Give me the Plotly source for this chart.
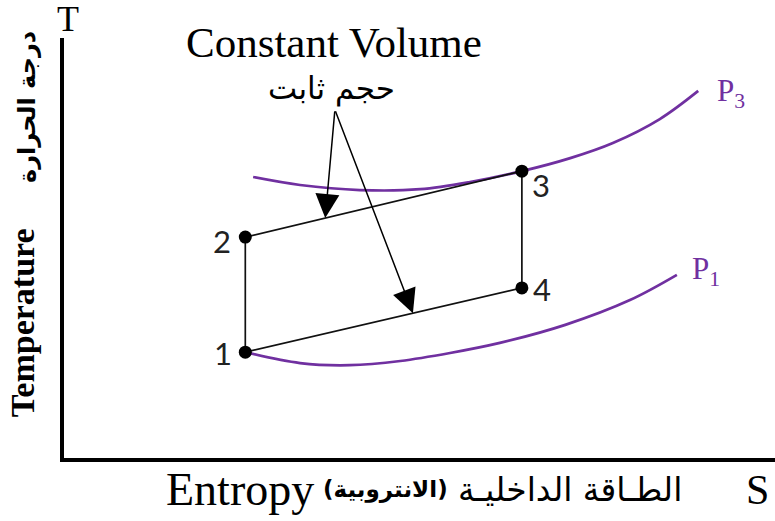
import plotly.graph_objects as go

# ---- data (arbitrary S / T units) ----
cycle_labels = ["1", "2", "3", "4"]
cycle_S = [2.55, 2.55, 6.44, 6.44]
cycle_T = [2.52, 5.26, 6.83, 4.05]

p3_S = [2.66, 3.32, 4.16, 5.01, 5.71, 6.44, 7.12, 7.72, 8.38, 8.92]
p3_T = [6.69, 6.50, 6.38, 6.40, 6.57, 6.83, 7.14, 7.50, 8.07, 8.74]

p1_S = [2.55, 3.32, 4.02, 4.73, 5.43, 6.13, 7.05, 7.96, 8.62]
p1_T = [2.52, 2.26, 2.21, 2.31, 2.50, 2.74, 3.17, 3.76, 4.36]

arrow_tail = (3.81, 8.29)           # where the "constant volume" arrows start
arrow_fracs = [0.289, 0.606]        # fraction along segments 2->3 and 1->4

PURPLE = "#7030A0"
SERIF = "Liberation Serif, Times New Roman, serif"
ARAB = "DejaVu Sans, sans-serif"

fig = go.Figure()

# pressure curves
fig.add_trace(go.Scatter(x=p3_S, y=p3_T, mode="lines", line=dict(color=PURPLE, width=2.7, shape="spline"),
                         hoverinfo="skip"))
fig.add_trace(go.Scatter(x=p1_S, y=p1_T, mode="lines", line=dict(color=PURPLE, width=2.7, shape="spline"),
                         hoverinfo="skip"))

# cycle 1-2-3-4-1
order = [0, 1, 2, 3, 0]
fig.add_trace(go.Scatter(x=[cycle_S[i] for i in order], y=[cycle_T[i] for i in order],
                         mode="lines", line=dict(color="#111", width=1.7), hoverinfo="skip"))
fig.add_trace(go.Scatter(x=cycle_S, y=cycle_T, mode="markers",
                         marker=dict(color="black", size=13), hoverinfo="skip"))

ann = []
# point numbers
shifts = [(-22, -1), (-23, -4), (19, -14), (20, -1)]
for lab, s, t, (dx, dy) in zip(cycle_labels, cycle_S, cycle_T, shifts):
    ann.append(dict(x=s, y=t, xref="x", yref="y", text=lab, showarrow=False, xshift=dx, yshift=dy,
                    xanchor="center", yanchor="middle",
                    font=dict(family="Lato, Liberation Sans, sans-serif", size=31, color="#222")))

# arrows to constant-volume lines
segs = [(1, 2), (0, 3)]
for (a, b), f in zip(segs, arrow_fracs):
    tx = cycle_S[a] + f * (cycle_S[b] - cycle_S[a])
    ty = cycle_T[a] + f * (cycle_T[b] - cycle_T[a])
    ann.append(dict(x=tx, y=ty, ax=arrow_tail[0], ay=arrow_tail[1], xref="x", yref="y",
                    axref="x", ayref="y", text="", showarrow=True, arrowhead=2,
                    arrowsize=3.2, arrowwidth=1.5, arrowcolor="black", standoff=0))
ann.append(dict(x=arrow_tail[0], y=arrow_tail[1], xref="x", yref="y", text="حجم ثابت",
                showarrow=False, yshift=21, xshift=-3, xanchor="center", yanchor="middle",
                font=dict(family=ARAB, size=31, color="black")))

# pressure labels
ann.append(dict(x=p3_S[-1], y=p3_T[-1], xref="x", yref="y", text="P<sub>3</sub>", showarrow=False,
                xshift=33, yshift=-2, xanchor="center", yanchor="middle",
                font=dict(family=SERIF, size=31, color=PURPLE)))
ann.append(dict(x=p1_S[-1], y=p1_T[-1], xref="x", yref="y", text="P<sub>1</sub>", showarrow=False,
                xshift=29, yshift=4, xanchor="center", yanchor="middle",
                font=dict(family=SERIF, size=31, color=PURPLE)))


def paper_text(x, y, text, family, size, angle=0):
    ann.append(dict(x=x, y=y, xref="paper", yref="paper", text=text, showarrow=False,
                    xanchor="center", yanchor="middle", textangle=angle,
                    font=dict(family=family, size=size, color="black")))


# titles / axis labels
paper_text(0.380, 0.990, "Constant Volume", SERIF, 43)
paper_text(0.006, 1.045, "T", SERIF, 36)
paper_text(-0.059, 0.321, "<b>Temperature</b>", SERIF, 34, -90)
paper_text(-0.052, 0.836, "<b>درجة الحرارة</b>", ARAB, 24, -90)
paper_text(0.2475, -0.076, "Entropy", SERIF, 46)
paper_text(0.452, -0.074, "<b>(الانتروبية)</b>", ARAB, 23)
paper_text(0.712, -0.076, "الطـاقة الداخليـة", ARAB, 33)
paper_text(0.975, -0.076, "S", SERIF, 42)

fig.update_layout(
    width=775, height=521,
    margin=dict(l=64, r=0, t=38, b=63, autoexpand=False),
    paper_bgcolor="white", plot_bgcolor="white",
    showlegend=False,
    annotations=ann,
    xaxis=dict(range=[0, 10], showgrid=False, zeroline=False, showticklabels=False, ticks="",
               showline=True, linecolor="black", linewidth=4, fixedrange=True),
    yaxis=dict(range=[0, 10], showgrid=False, zeroline=False, showticklabels=False, ticks="",
               showline=True, linecolor="black", linewidth=4, fixedrange=True),
)

fig.write_html("out.html", config={"displayModeBar": False},
               post_script="document.body.style.margin='0';document.body.style.overflow='hidden';")
